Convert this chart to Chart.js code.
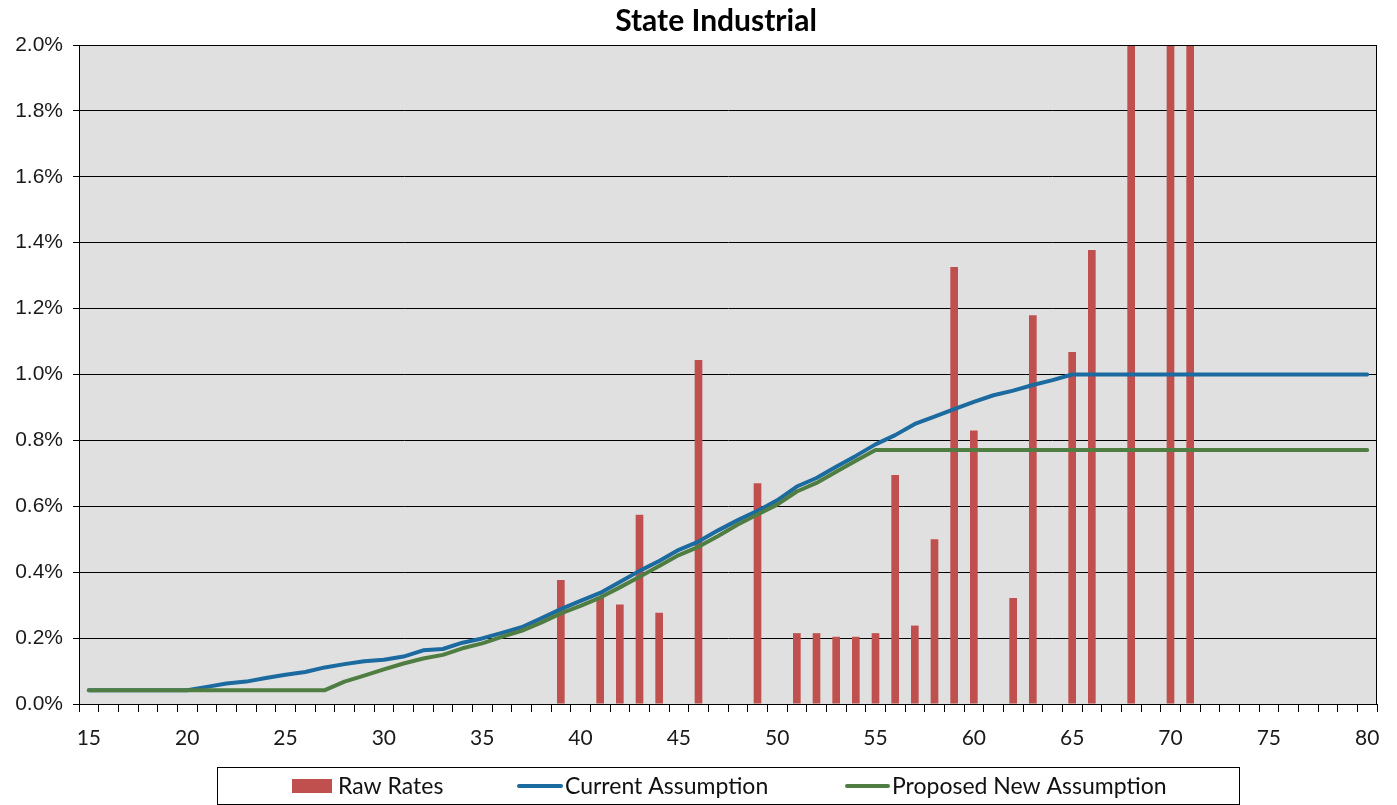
<!DOCTYPE html>
<html><head><meta charset="utf-8">
<script src="https://cdn.jsdelivr.net/npm/chart.js@4.4.1/dist/chart.umd.min.js"></script>
<style>html,body{margin:0;padding:0;background:#fff;overflow:hidden}#wrap{width:1397px;height:805px;position:relative}</style>
</head><body><div id="wrap"><canvas id="c" width="1397" height="805"></canvas></div>
<script>
const chartTitle = 'State Industrial';
const ages = [15,16,17,18,19,20,21,22,23,24,25,26,27,28,29,30,31,32,33,34,35,36,37,38,39,40,41,42,43,44,45,46,47,48,49,50,51,52,53,54,55,56,57,58,59,60,61,62,63,64,65,66,67,68,69,70,71,72,73,74,75,76,77,78,79,80];
// Raw rates in % (68, 70, 71 run off the top of the axis)
const rawRates = [null,null,null,null,null,null,null,null,null,null,null,null,null,null,null,null,null,null,null,null,null,null,null,null,
  0.376,null,0.325,0.302,0.574,0.277,null,1.044,null,null,0.670,null,0.215,0.215,0.204,0.204,0.215,0.695,0.238,0.500,1.326,0.830,null,0.322,1.180,null,1.068,1.378,null,2.60,null,3.10,2.30,
  null,null,null,null,null,null,null,null,null];
const currentAssumption = [0.042,0.042,0.042,0.042,0.042,0.042,0.052,0.062,0.068,0.079,0.089,0.097,0.111,0.121,0.130,0.134,0.144,0.163,0.167,0.186,0.199,0.216,0.233,0.260,
  0.288,0.313,0.337,0.370,0.404,0.434,0.468,0.493,0.527,0.558,0.586,0.618,0.660,0.686,0.720,0.753,0.788,0.816,0.850,0.872,0.895,0.917,0.937,0.951,0.968,0.983,1.000,
  1.000,1.000,1.000,1.000,1.000,1.000,1.000,1.000,1.000,1.000,1.000,1.000,1.000,1.000,1.000];
const proposedAssumption = [0.042,0.042,0.042,0.042,0.042,0.042,0.042,0.042,0.042,0.042,0.042,0.042,0.042,0.068,0.086,0.105,0.123,0.138,0.149,0.169,0.184,0.204,0.222,0.247,
  0.275,0.298,0.323,0.354,0.386,0.419,0.452,0.477,0.510,0.545,0.575,0.605,0.645,0.671,0.705,0.738,0.771,
  0.771,0.771,0.771,0.771,0.771,0.771,0.771,0.771,0.771,0.771,0.771,0.771,0.771,0.771,0.771,0.771,0.771,0.771,0.771,0.771,0.771,0.771,0.771,0.771,0.771];
const seriesNames = ['Raw Rates','Current Assumption','Proposed New Assumption'];
const yMin = 0, yMax = 2.0, yStep = 0.2;

const RED = '#c0504d', BLUE = '#1b6aa0', GREEN = '#507e42';

const decorPlugin = {
  id: 'decor',
  beforeDraw(chart) {
    const {ctx, chartArea: a} = chart;
    ctx.save();
    ctx.fillStyle = '#fff';
    ctx.fillRect(0, 0, chart.width, chart.height);
    ctx.fillStyle = '#e0e0e0';
    ctx.fillRect(a.left, a.top, a.right - a.left, a.bottom - a.top);
    ctx.restore();
  },
  afterDraw(chart) {
    const {ctx, chartArea: a} = chart;
    ctx.save();
    // plot border
    ctx.strokeStyle = '#000';
    ctx.lineWidth = 1;
    ctx.strokeRect(Math.round(a.left) + 0.5, Math.round(a.top) + 0.5, Math.round(a.right - a.left) - 1, Math.round(a.bottom - a.top));
    // title
    ctx.fillStyle = '#000';
    ctx.font = 'bold 30px Lato';
    ctx.textAlign = 'center';
    ctx.textBaseline = 'alphabetic';
    ctx.fillText(chartTitle, 716, 31);
    // legend box
    ctx.strokeStyle = '#000';
    ctx.lineWidth = 1;
    ctx.strokeRect(217.5, 767.5, 1022, 37);
    ctx.font = '23px Lato';
    ctx.textAlign = 'left';
    const ds = chart.data.datasets;
    // Raw Rates
    ctx.fillStyle = ds[0].backgroundColor;
    ctx.fillRect(292, 779, 40, 14);
    ctx.fillStyle = '#111';
    ctx.fillText(ds[0].label, 338, 794);
    // Current
    ctx.strokeStyle = ds[1].borderColor; ctx.lineWidth = 4; ctx.lineCap = 'round';
    ctx.beginPath(); ctx.moveTo(519, 786); ctx.lineTo(561, 786); ctx.stroke();
    ctx.fillText(ds[1].label, 565, 794);
    // Proposed
    ctx.strokeStyle = ds[2].borderColor;
    ctx.beginPath(); ctx.moveTo(847, 786); ctx.lineTo(888, 786); ctx.stroke();
    ctx.fillText(ds[2].label, 892, 794);
    ctx.restore();
  }
};

new Chart(document.getElementById('c'), {
  type: 'bar',
  data: {
    labels: ages,
    datasets: [
      { type: 'bar', label: seriesNames[0], data: rawRates, backgroundColor: RED, borderWidth: 0,
        categoryPercentage: 1.0, barPercentage: 0.39, order: 3 },
      { type: 'line', label: seriesNames[1], data: currentAssumption, borderColor: BLUE, backgroundColor: BLUE,
        borderWidth: 4, pointRadius: 0, tension: 0, fill: false, borderJoinStyle: 'round', borderCapStyle: 'round', order: 2 },
      { type: 'line', label: seriesNames[2], data: proposedAssumption, borderColor: GREEN, backgroundColor: GREEN,
        borderWidth: 4, pointRadius: 0, tension: 0, fill: false, borderJoinStyle: 'round', borderCapStyle: 'round', order: 1 }
    ]
  },
  options: {
    responsive: false,
    animation: false,
    layout: { padding: { top: 45, right: 20, left: 0, bottom: 0 } },
    plugins: { legend: { display: false }, tooltip: { enabled: false }, title: { display: false } },
    scales: {
      x: {
        type: 'category',
        offset: true,
        grid: { display: true, drawOnChartArea: false, drawTicks: true, tickLength: 8, color: '#000', lineWidth: 1, offset: true },
        border: { display: true, color: '#000', width: 1 },
        ticks: {
          autoSkip: false, maxRotation: 0, minRotation: 0, padding: 14,
          color: '#1a1a1a', font: { family: 'Lato', size: 21 },
          callback: function(v, i) { return ages[i] % 5 === 0 ? String(ages[i]) : ''; }
        },
        afterFit(scale) { scale.height = 101; }
      },
      y: {
        min: yMin, max: yMax,
        grid: { color: '#000', lineWidth: 1, tickLength: 6, drawTicks: true },
        border: { display: true, color: '#000', width: 1 },
        ticks: {
          stepSize: yStep, padding: 10, color: '#1a1a1a',
          font: { family: 'Liberation Sans', size: 21 },
          callback: v => v.toFixed(1) + '%'
        },
        afterFit(scale) { scale.width = 79; }
      }
    }
  },
  plugins: [decorPlugin]
});
</script></body></html>
